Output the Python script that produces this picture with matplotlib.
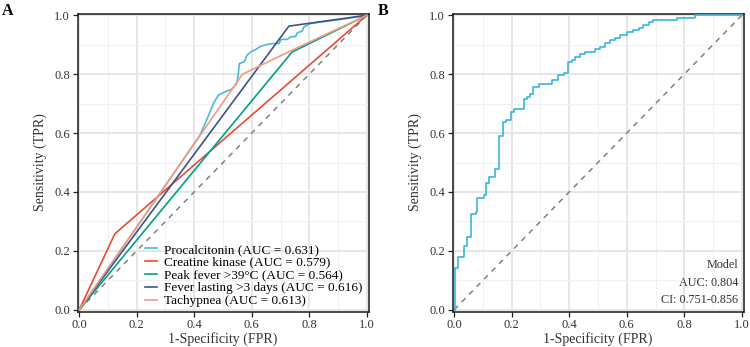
import matplotlib
matplotlib.use("Agg")
import matplotlib.pyplot as plt
from matplotlib.ticker import MultipleLocator

plt.rcParams['font.family'] = ['Liberation Serif', 'DejaVu Serif']

# ---------------- Panel A data ----------------
pct_fpr = [0.0, 0.20, 0.42, 0.443, 0.467, 0.484, 0.507, 0.530, 0.547, 0.552, 0.557, 0.574,
           0.583, 0.597, 0.614, 0.632, 0.649, 0.672, 0.695, 0.701, 0.724, 0.735, 0.753,
           0.758, 0.776, 0.781, 0.804, 0.839, 0.885, 0.931, 1.0]
pct_tpr = [0.0, 0.28, 0.593, 0.644, 0.701, 0.729, 0.740, 0.749, 0.768, 0.79, 0.836, 0.842,
           0.864, 0.876, 0.884, 0.895, 0.900, 0.904, 0.904, 0.918, 0.918, 0.927, 0.928,
           0.940, 0.947, 0.960, 0.972, 0.977, 0.983, 0.989, 1.0]
ck_fpr = [0.0, 0.124, 1.0]
ck_tpr = [0.0, 0.258, 1.0]
pf_fpr = [0.0, 0.74, 1.0]
pf_tpr = [0.0, 0.875, 1.0]
fl_fpr = [0.0, 0.729, 1.0]
fl_tpr = [0.0, 0.963, 1.0]
ta_fpr = [0.0, 0.568, 0.735, 1.0]
ta_tpr = [0.0, 0.800, 0.879, 1.0]

labels_a = ["Procalcitonin (AUC = 0.631)", "Creatine kinase (AUC = 0.579)",
            "Peak fever >39°C (AUC = 0.564)", "Fever lasting >3 days (AUC = 0.616)",
            "Tachypnea (AUC = 0.613)"]
colors_a = ["#4DBBD5", "#E64B35", "#00A087", "#3C5488", "#F39B7F"]

# ---------------- Panel B data ----------------
m_fpr = [0.0035, 0.0035, 0.012, 0.035, 0.044, 0.058, 0.076, 0.079, 0.102, 0.110, 0.122,
         0.142, 0.154, 0.168, 0.180, 0.198, 0.208, 0.241, 0.252, 0.262, 0.273, 0.296,
         0.339, 0.362, 0.382, 0.394, 0.409, 0.420, 0.438, 0.455, 0.490, 0.507, 0.524,
         0.542, 0.559, 0.578, 0.600, 0.623, 0.644, 0.658, 0.678, 0.692, 0.775, 0.837, 1.0]
m_tpr = [0.0, 0.141, 0.179, 0.215, 0.246, 0.325, 0.331, 0.379, 0.388, 0.429, 0.452,
         0.478, 0.590, 0.638, 0.646, 0.670, 0.680, 0.715, 0.721, 0.734, 0.755, 0.768,
         0.780, 0.796, 0.804, 0.842, 0.847, 0.858, 0.870, 0.876, 0.884, 0.893, 0.907,
         0.915, 0.923, 0.932, 0.943, 0.950, 0.958, 0.966, 0.976, 0.983, 0.992, 1.0, 1.0]
model_text = ["Model", "AUC: 0.804", "CI: 0.751-0.856"]

ticks = [0.0, 0.2, 0.4, 0.6, 0.8, 1.0]
tick_labels = ["0.0", "0.2", "0.4", "0.6", "0.8", "1.0"]

fig = plt.figure(figsize=(7.5, 3.47), dpi=100)
axA = fig.add_axes([77.5 / 750, 35.5 / 347, 291 / 750, 298 / 347])
axB = fig.add_axes([452.5 / 750, 35.5 / 347, 291 / 750, 298 / 347])


def style(ax):
    ax.set_xlim(-0.006, 1.006)
    ax.set_ylim(-0.006, 1.006)
    ax.set_xticks(ticks)
    ax.set_xticklabels(tick_labels)
    ax.set_yticks(ticks)
    ax.set_yticklabels(tick_labels)
    ax.xaxis.set_minor_locator(MultipleLocator(0.1))
    ax.yaxis.set_minor_locator(MultipleLocator(0.1))
    ax.grid(which='major', color='#E6E6E6', lw=1.4)
    ax.grid(which='minor', color='#F0F0F0', lw=0.8)
    ax.set_axisbelow(True)
    ax.tick_params(which='minor', length=0)
    ax.tick_params(which='major', length=3.5, width=0.9, labelsize=9, pad=2,
                   colors='#222222', labelcolor='#333333')
    for s in ax.spines.values():
        s.set_color('#1a1a1a')
        s.set_linewidth(1.1)
    ax.set_xlabel("1-Specificity (FPR)", fontsize=10, color='#333333', labelpad=1)
    ax.set_ylabel("Sensitivity (TPR)", fontsize=10, color='#333333', labelpad=5)
    ax.plot([0, 1], [0, 1], ls=(0, (3.5, 3.5)), color='#808080', lw=1.1, zorder=2)


style(axA)
style(axB)

series = [(pct_fpr, pct_tpr), (ck_fpr, ck_tpr), (pf_fpr, pf_tpr), (fl_fpr, fl_tpr), (ta_fpr, ta_tpr)]
for (fx, ty), lab, c in zip(series, labels_a, colors_a):
    axA.plot(fx, ty, color=c, lw=1.2, label=lab, zorder=3)

axA.legend(loc='lower right', frameon=False, fontsize=9.5, handlelength=0.85,
           handletextpad=0.55, labelspacing=0.05, borderaxespad=0.0,
           bbox_to_anchor=(0.988, 0.005), borderpad=0.2)

axB.plot(m_fpr, m_tpr, drawstyle='steps-post', color='#3CB4DA', lw=1.2, zorder=3)
for i, t in enumerate(model_text):
    axB.text(0.982, 0.155 - i * 0.058, t, transform=axB.transAxes, ha='right', va='center',
             fontsize=8.7, color='#333333')

fig.text(2 / 750, 1 - 3 / 347, "A", fontsize=11.5, fontweight='bold', va='top', ha='left')
fig.text(378 / 750, 1 - 3 / 347, "B", fontsize=11.5, fontweight='bold', va='top', ha='left')

fig.savefig("out.png", dpi=100)
